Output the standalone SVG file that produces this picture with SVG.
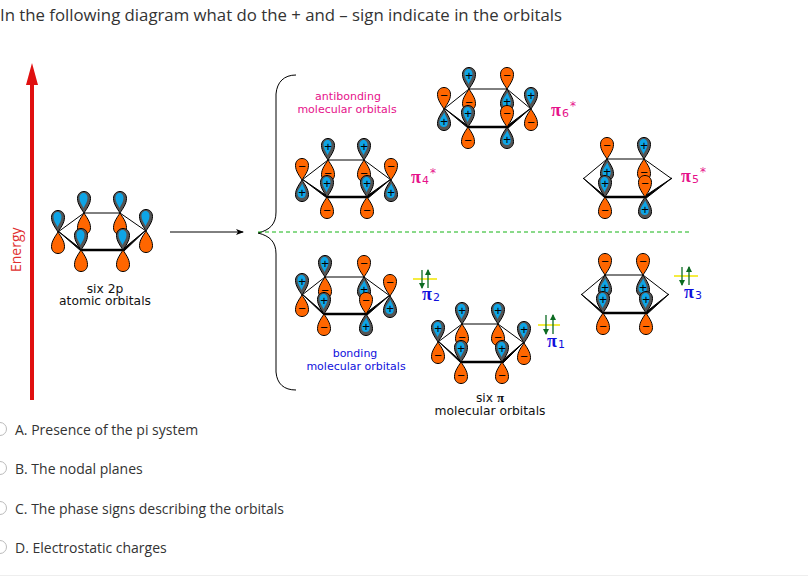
<svg xmlns="http://www.w3.org/2000/svg" width="808" height="576" viewBox="0 0 808 576">
<style>
text{font-family:"DejaVu Sans",sans-serif}
.q{font-family:"Open Sans",sans-serif;fill:#333}
.o{font-family:"Open Sans",sans-serif;font-size:14px;fill:#333}
.l{font-size:11px;text-anchor:middle}
.k{font-size:12.3px;fill:#111;text-anchor:middle}
.p{fill:#e6118a}.b{fill:#1010dc}
.pi{font-family:"Liberation Serif",serif;font-size:18px;font-weight:bold}
.sub{font-size:11px}.st{font-size:12px}
.thin{stroke:#000;stroke-width:1;fill:none}
.bar{stroke:#000;stroke-width:2.5;fill:none}
.y{stroke:#f2e600;stroke-width:1.5;fill:none}
.g{stroke:#0c6b22;stroke-width:1.3;fill:none}
.sg{font-family:"Liberation Sans",sans-serif;font-size:13px;fill:#000;text-anchor:middle}
.con{fill:none;stroke:#000;stroke-width:1}
</style>
<defs>
<path id="lobe" d="M0,0C-2.5,-4 -6.5,-9 -6.5,-14.5C-6.5,-19 -3.5,-21.5 0,-21.5C3.5,-21.5 6.5,-19 6.5,-14.5C6.5,-9 2.5,-4 0,0Z"/>
<g id="bu0"><use href="#lobe" fill="#555" stroke="#000"/><path d="M-.5,-5C-2,-8.5 -4.5,-11 -4.5,-15C-4.5,-18.5 -2.5,-20 -.5,-20C1.5,-20 3.5,-18.5 3.5,-15C3.5,-11 1.2,-8.5 -.5,-5Z" fill="#0ea5e6"/></g>
<g id="od0"><use href="#lobe" transform="scale(1,-1)" fill="#f60" stroke="#000"/></g>
<g id="ou"><use href="#lobe" fill="#f60" stroke="#000"/><text class="sg" y="-9">−</text></g>
<g id="od"><use href="#od0"/><text class="sg" y="18">−</text></g>
<g id="bu"><use href="#bu0"/><text class="sg" y="-9">+</text></g>
<g id="bd"><use href="#lobe" transform="scale(1,-1)" fill="#555" stroke="#000"/><path d="M.3,3.5C1.5,7 3.8,9.5 3.8,13.5C3.8,16.5 2,18 -.2,18C-2.5,18 -4.5,16.5 -4.5,13.5C-4.5,9.5 -1.2,7 .3,3.5Z" fill="#0ea5e6"/><text class="sg" y="17">+</text></g>
<marker id="ah" markerWidth="8" markerHeight="6" refX="7" refY="3" orient="auto" markerUnits="userSpaceOnUse"><path d="M0,0L8,3L0,6L2,3Z" fill="#000"/></marker>
<marker id="gh" markerWidth="6" markerHeight="6" refX="5" refY="3" orient="auto" markerUnits="userSpaceOnUse"><path d="M0,0L6,3L0,6Z" fill="#0c6b22"/></marker>
</defs>
<rect width="808" height="576" fill="#fff"/>

<text id="title" class="q" x="0" y="21" font-size="16.78">In the following diagram what do the + and – sign indicate in the orbitals</text>

<g id="energy">
<rect x="30" y="84" width="4" height="316" fill="#e01010"/>
<path d="M32,63L38,85L26,85Z" fill="#e01010"/>
<text transform="translate(21,272) rotate(-90)" font-size="14" fill="#e03030" style="font-family:'Open Sans',sans-serif">Energy</text>
</g>

<g id="connectors">
<path class="con" d="M170,232H243" marker-end="url(#ah)"/>
<path class="con" d="M296,75C284,75 277,82 276,94V212C276,224 270,230 258,233C270,236 276,242 276,254V372C277,384 284,390 296,390"/>
<path d="M258,232H692" fill="none" stroke="#14b414" stroke-width="1" stroke-dasharray="4 3"/>
</g>

<g id="atomic">
<use href="#od0" x="84" y="213"/><use href="#bu0" x="84" y="213"/>
<use href="#od0" x="120" y="213"/><use href="#bu0" x="120" y="213"/>
<path class="thin" d="M58,232L84,213H120L146,231"/>
<path d="M58,231L81,249V251Z M146,230L123,249V252Z" stroke="#000"/><path class="bar" d="M81,250H123"/>
<use href="#od0" x="58" y="232"/><use href="#bu0" x="58" y="232"/>
<use href="#od0" x="146" y="231"/><use href="#bu0" x="146" y="231"/>
<use href="#od0" x="81" y="250"/><use href="#bu0" x="81" y="250"/>
<use href="#od0" x="123" y="250"/><use href="#bu0" x="123" y="250"/>
<text class="k" x="105" y="292.5">six 2p</text>
<text class="k" x="105" y="305">atomic orbitals</text>
</g>

<g id="pi6">
<use href="#od" x="469" y="89"/><use href="#bu" x="469" y="89"/>
<use href="#bd" x="507" y="89"/><use href="#ou" x="507" y="89"/>
<path class="thin" d="M444,109L469,89H507L531,109"/>
<path d="M444,108L468,126V128Z M531,108L507,126V129Z" stroke="#000"/><path class="bar" d="M468,127H507"/>
<use href="#bd" x="444" y="109"/><use href="#ou" x="444" y="109"/>
<use href="#od" x="531" y="109"/><use href="#bu" x="531" y="109"/>
<use href="#od" x="468" y="127"/><use href="#bu" x="468" y="127"/>
<use href="#bd" x="507" y="127"/><use href="#ou" x="507" y="127"/>
<text x="551" y="116"><tspan class="pi p">π</tspan><tspan class="sub p" dx="1" dy="1">6</tspan><tspan class="st p" dx="1" dy="-7">*</tspan></text>
</g>

<g id="pi4">
<use href="#od" x="328" y="160"/><use href="#bu" x="328" y="160"/>
<use href="#od" x="364" y="160"/><use href="#bu" x="364" y="160"/>
<path class="thin" d="M302,180L328,160H364L391,180"/>
<path d="M302,179L327,196V198Z M391,179L367,196V199Z" stroke="#000"/><path class="bar" d="M327,197H367"/>
<use href="#bd" x="302" y="180"/><use href="#ou" x="302" y="180"/>
<use href="#bd" x="391" y="180"/><use href="#ou" x="391" y="180"/>
<use href="#od" x="327" y="197"/><use href="#bu" x="327" y="197"/>
<use href="#od" x="367" y="197"/><use href="#bu" x="367" y="197"/>
<text x="411" y="183"><tspan class="pi p">π</tspan><tspan class="sub p" dx="1" dy="1">4</tspan><tspan class="st p" dx="1" dy="-7">*</tspan></text>
</g>

<g id="pi5">
<use href="#bd" x="607" y="159"/><use href="#ou" x="607" y="159"/>
<use href="#od" x="644" y="159"/><use href="#bu" x="644" y="159"/>
<path class="thin" d="M583,179L607,159H644L672,179"/>
<path d="M583,178L605,196V198Z M672,178L645,196V199Z" stroke="#000"/><path class="bar" d="M605,197H645"/>
<use href="#od" x="605" y="197"/><use href="#bu" x="605" y="197"/>
<use href="#bd" x="645" y="197"/><use href="#ou" x="645" y="197"/>
<text x="681" y="182"><tspan class="pi p">π</tspan><tspan class="sub p" dx="1" dy="1">5</tspan><tspan class="st p" dx="1" dy="-7">*</tspan></text>
</g>

<g id="pi3">
<use href="#bd" x="605" y="275"/><use href="#ou" x="605" y="275"/>
<use href="#bd" x="643" y="275"/><use href="#ou" x="643" y="275"/>
<path class="thin" d="M581,295L605,275H643L669,295"/>
<path d="M581,294L603,312V314Z M669,294L646,312V315Z" stroke="#000"/><path class="bar" d="M603,313H646"/>
<use href="#od" x="603" y="313"/><use href="#bu" x="603" y="313"/>
<use href="#od" x="646" y="313"/><use href="#bu" x="646" y="313"/>
<path class="y" d="M674,276H698"/>
<path class="g" d="M682,267V285" marker-end="url(#gh)"/><path class="g" d="M689,285V267" marker-end="url(#gh)"/>
<text x="684" y="298"><tspan class="pi b">π</tspan><tspan class="sub b" dx="1" dy="1">3</tspan></text>
</g>

<g id="pi2">
<use href="#od" x="325" y="277"/><use href="#bu" x="325" y="277"/>
<use href="#bd" x="364" y="277"/><use href="#ou" x="364" y="277"/>
<path class="thin" d="M302,295L325,277H364L390,296"/>
<path d="M302,294L324,313V315Z M390,295L366,313V316Z" stroke="#000"/><path class="bar" d="M324,314H366"/>
<use href="#od" x="302" y="295"/><use href="#bu" x="302" y="295"/>
<use href="#bd" x="390" y="296"/><use href="#ou" x="390" y="296"/>
<use href="#od" x="324" y="314"/><use href="#bu" x="324" y="314"/>
<use href="#bd" x="366" y="314"/><use href="#ou" x="366" y="314"/>
<path class="y" d="M413,279H437"/>
<path class="g" d="M422,270V288" marker-end="url(#gh)"/><path class="g" d="M428,288V270" marker-end="url(#gh)"/>
<text x="422" y="300"><tspan class="pi b">π</tspan><tspan class="sub b" dx="1" dy="1">2</tspan></text>
</g>

<g id="pi1">
<use href="#od" x="462" y="324"/><use href="#bu" x="462" y="324"/>
<use href="#od" x="498" y="324"/><use href="#bu" x="498" y="324"/>
<path class="thin" d="M438,342L462,324H498L524,343"/>
<path d="M438,341L461,361V363Z M524,342L502,361V364Z" stroke="#000"/><path class="bar" d="M461,362H502"/>
<use href="#od" x="438" y="342"/><use href="#bu" x="438" y="342"/>
<use href="#od" x="524" y="343"/><use href="#bu" x="524" y="343"/>
<use href="#od" x="461" y="362"/><use href="#bu" x="461" y="362"/>
<use href="#od" x="502" y="362"/><use href="#bu" x="502" y="362"/>
<path class="y" d="M538,325H560"/>
<path class="g" d="M546,315V334" marker-end="url(#gh)"/><path class="g" d="M553,334V315" marker-end="url(#gh)"/>
<text x="547" y="347"><tspan class="pi b">π</tspan><tspan class="sub b" dx="1" dy="1">1</tspan></text>
</g>

<g id="labels">
<text class="l p" x="348" y="100">antibonding</text>
<text class="l p" x="347" y="113">molecular orbitals</text>
<text class="l b" x="355" y="357">bonding</text>
<text class="l b" x="356" y="370">molecular orbitals</text>
<text class="k" x="490" y="402">six <tspan font-family="Liberation Serif" font-weight="bold" font-size="13">π</tspan></text>
<text class="k" x="490" y="414.5">molecular orbitals</text>
</g>

<g id="options">
<circle cx="0" cy="429" r="6.5" fill="#fff" stroke="#bbb"/>
<circle cx="0" cy="468" r="6.5" fill="#fff" stroke="#bbb"/>
<circle cx="0" cy="508" r="6.5" fill="#fff" stroke="#bbb"/>
<circle cx="0" cy="547" r="6.5" fill="#fff" stroke="#bbb"/>
<text class="o" x="15" y="435">A. Presence of the pi system</text>
<text class="o" x="15" y="474">B. The nodal planes</text>
<text class="o" x="15" y="514">C. The phase signs describing the orbitals</text>
<text class="o" x="15" y="553">D. Electrostatic charges</text>
<path d="M0,575.5H808" stroke="#eee" stroke-width="1"/>
</g>
</svg>
